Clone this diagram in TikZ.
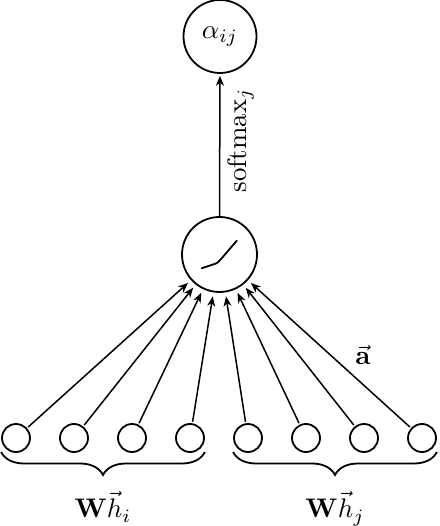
\documentclass[tikz,border=0pt]{standalone}
\usepackage{amsmath}
\usetikzlibrary{arrows.meta,decorations.pathreplacing}
\begin{document}
\begin{tikzpicture}[x=1bp,y=1bp, line width=1.8bp,
  txt/.style={scale=2.7},
  unit/.style={circle,draw,inner sep=0pt,minimum size=28bp},
  neuron/.style={circle,draw,inner sep=0pt,minimum size=75bp},
  conn/.style={-{Stealth[length=10bp,width=8bp]}},
  bracedeco/.style={decorate,decoration={brace,mirror,amplitude=23bp}}]
\useasboundingbox (0,0) rectangle (440,526);
\node[neuron, minimum size=73bp] (alpha) at (220,489.5) {};
\node[txt] (alphatxt) at (alpha.center) {$\alpha_{ij}$};
\node[neuron] (att) at (219.5,271.5) {};
\foreach \i in {1,...,8} \node[unit] (b\i) at ({16+58*(\i-1)},88) {};
\foreach \i in {1,...,8} \draw[conn, line width=1.5bp, shorten >=4bp, shorten <=1.5bp] (b\i) -- (att);
\draw[conn, line width=1.5bp, shorten >=2bp] (att) -- (alpha);
\node[txt, rotate=90, anchor=base west, inner sep=0pt] (sm) at (246,331) {softmax$_j$};
\draw[line join=round, line cap=round] (att.center) ++(-17.8,-13.8) -- ++(12,4) .. controls ++(4,1.5) .. ++(8,6) -- ++(15,17.5);
\coordinate (ybr) at (0,74);
\draw[bracedeco] (b1.west |- ybr) -- (b4.east |- ybr);
\draw[bracedeco] (b5.west |- ybr) -- (b8.east |- ybr);
\node[txt, anchor=base] (hi) at (103,8) {$\mathbf{W}\vec{h}_i$};
\node[txt, anchor=base] (hj) at (335,8) {$\mathbf{W}\vec{h}_j$};
\node[txt] (avec) at (363,171) {$\vec{\mathbf{a}}$};
\end{tikzpicture}
\end{document}
